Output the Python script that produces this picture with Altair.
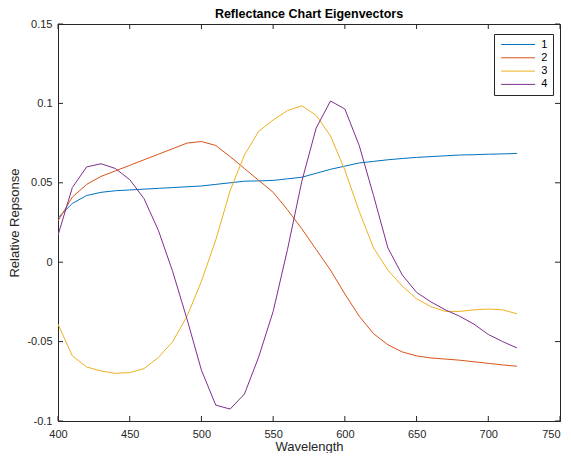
import altair as alt
import pandas as pd

wavelength = list(range(400, 730, 10))

ev1 = [0.028, 0.037, 0.042, 0.044, 0.045, 0.0455, 0.046, 0.0465, 0.047, 0.0475, 0.048,
       0.049, 0.050, 0.051, 0.0512, 0.0515, 0.0525, 0.0535, 0.056, 0.0585, 0.0605,
       0.0625, 0.0635, 0.0645, 0.0653, 0.066, 0.0665, 0.067, 0.0675, 0.0677, 0.068,
       0.0682, 0.0685]
ev2 = [0.026, 0.041, 0.049, 0.054, 0.0575, 0.061, 0.0645, 0.068, 0.0715, 0.075, 0.076,
       0.0735, 0.0665, 0.059, 0.0515, 0.044, 0.033, 0.021, 0.008, -0.005, -0.020,
       -0.034, -0.045, -0.052, -0.0565, -0.059, -0.0603, -0.061, -0.0617, -0.0627,
       -0.0637, -0.0647, -0.0655]
ev3 = [-0.039, -0.059, -0.066, -0.0685, -0.070, -0.0695, -0.067, -0.060, -0.050, -0.034,
       -0.012, 0.014, 0.045, 0.0675, 0.0825, 0.0895, 0.0955, 0.0985, 0.0925, 0.0795,
       0.058, 0.032, 0.009, -0.005, -0.015, -0.023, -0.028, -0.031, -0.031, -0.030,
       -0.0295, -0.030, -0.0325]
ev4 = [0.017, 0.047, 0.060, 0.062, 0.059, 0.052, 0.040, 0.020, -0.006, -0.036, -0.068,
       -0.090, -0.0925, -0.083, -0.0595, -0.031, 0.008, 0.051, 0.0845, 0.1015, 0.0965,
       0.0735, 0.042, 0.009, -0.008, -0.019, -0.025, -0.030, -0.034, -0.039, -0.0455,
       -0.050, -0.054]

series_names = ["1", "2", "3", "4"]
series_colors = ["#0072BD", "#D95319", "#EDB120", "#7E2F8E"]

x_ticks = [400, 450, 500, 550, 600, 650, 700, 750]
y_ticks = [-0.1, -0.05, 0, 0.05, 0.1, 0.15]

rows = []
for name, vals in zip(series_names, [ev1, ev2, ev3, ev4]):
    for w, v in zip(wavelength, vals):
        rows.append({"Wavelength": w, "Value": v, "Series": name})
df = pd.DataFrame(rows)

W, H = 502, 397
AXC = "#262626"
FONT = "Liberation Sans"

xscale = alt.Scale(domain=[400, 750], nice=False, zero=False)
yscale = alt.Scale(domain=[-0.1, 0.15], nice=False, zero=False)

lines = alt.Chart(df).mark_line(strokeWidth=1, clip=True).encode(
    x=alt.X("Wavelength:Q", scale=xscale,
            axis=alt.Axis(values=x_ticks, title="Wavelength", ticks=False, grid=False,
                          labelPadding=7, titlePadding=1, format="d", labelFlush=False,
                          labelAlign={"condition": {"test": "datum.value == 750", "value": "right"},
                                      "value": "center"})),
    y=alt.Y("Value:Q", scale=yscale,
            axis=alt.Axis(values=y_ticks, title="Relative Repsonse", ticks=False, grid=False,
                          labelPadding=6, titlePadding=5, labelFlush=False,
                          labelExpr="toString(datum.value)")),
    color=alt.Color("Series:N",
                    scale=alt.Scale(domain=series_names, range=series_colors),
                    legend=alt.Legend(title=None, orient="none", legendX=436, legendY=10,
                                      symbolType="M-1,0H9", symbolSize=46.24,
                                      symbolStrokeWidth=1, labelFontSize=11,
                                      labelColor="black", labelFont=FONT,
                                      padding=5, strokeColor=AXC, fillColor="white",
                                      cornerRadius=0, labelOffset=31.2, rowPadding=1.3)),
)

xt = pd.DataFrame({"Wavelength": x_ticks})
yt = pd.DataFrame({"Value": y_ticks})

xb = alt.Chart(xt).mark_rule(color=AXC, strokeWidth=1).encode(
    x=alt.X("Wavelength:Q", scale=xscale), y=alt.value(H), y2=alt.value(H - 5))
xtop = alt.Chart(xt).mark_rule(color=AXC, strokeWidth=1).encode(
    x=alt.X("Wavelength:Q", scale=xscale), y=alt.value(0), y2=alt.value(5))
yl = alt.Chart(yt).mark_rule(color=AXC, strokeWidth=1).encode(
    y=alt.Y("Value:Q", scale=yscale), x=alt.value(0), x2=alt.value(5))
yr = alt.Chart(yt).mark_rule(color=AXC, strokeWidth=1).encode(
    y=alt.Y("Value:Q", scale=yscale), x=alt.value(W), x2=alt.value(W - 5))

chart = alt.layer(lines, xb, xtop, yl, yr).properties(
    width=W, height=H,
    title=alt.TitleParams("Reflectance Chart Eigenvectors", fontSize=12.5, fontWeight="bold",
                          font=FONT, color="black", offset=7, frame="group",
                          baseline="alphabetic", dy=19),
    padding={"left": 50, "top": 16, "right": 3, "bottom": 32},
    autosize=alt.AutoSizeParams(type="none"),
).configure_view(
    stroke=AXC, strokeWidth=1
).configure_axis(
    domainColor=AXC, labelColor=AXC, titleColor=AXC, labelFont=FONT, titleFont=FONT,
    labelFontSize=11, titleFontSize=13, titleFontWeight="normal", domainWidth=1
)

chart.save("out.html", embed_options={"renderer": "svg", "actions": False})
